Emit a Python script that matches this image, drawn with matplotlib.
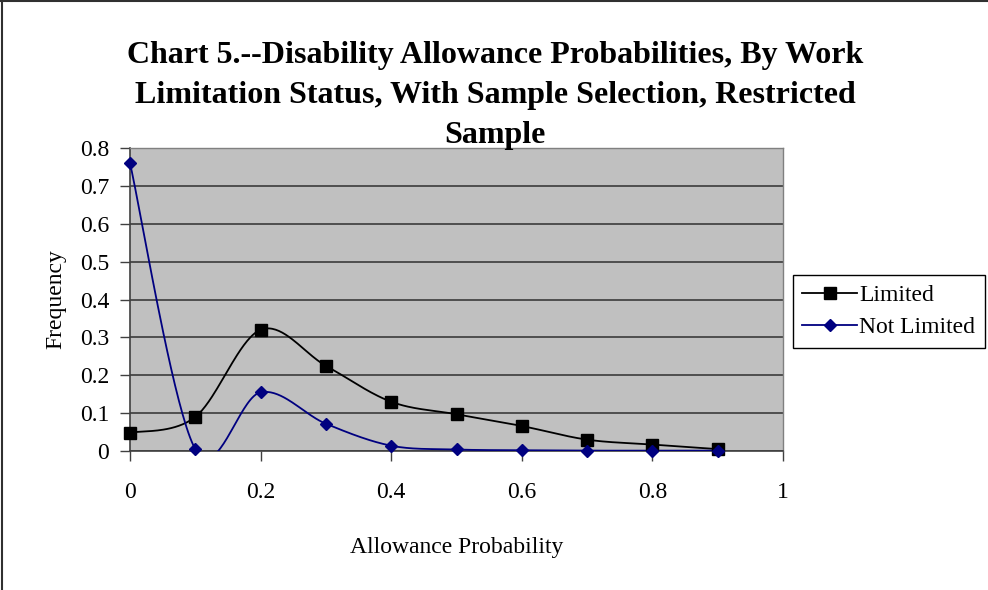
import numpy as np
import matplotlib
matplotlib.use("Agg")
import matplotlib.pyplot as plt
from matplotlib.lines import Line2D

plt.rcParams['font.family'] = ['Liberation Serif', 'DejaVu Serif']

x_vals = [0.0, 0.1, 0.2, 0.3, 0.4, 0.5, 0.6, 0.7, 0.8, 0.9]
limited = [0.048, 0.09, 0.32, 0.225, 0.13, 0.097, 0.066, 0.03, 0.017, 0.005]
not_limited = [0.76, 0.005, 0.155, 0.072, 0.014, 0.004, 0.002, 0.001, 0.001, 0.001]
series_names = ["Limited", "Not Limited"]
title_text = ("Chart 5.--Disability Allowance Probabilities, By Work\n"
              "Limitation Status, With Sample Selection, Restricted\n"
              "Sample")
x_label = "Allowance Probability"
y_label = "Frequency"


def smooth(xs, ys, n=40):
    """Excel-like Bezier smoothing (Catmull-Rom control points)."""
    xs = np.asarray(xs, float)
    ys = np.asarray(ys, float)
    P = np.column_stack([xs, ys])
    out = []
    m = len(P)
    for i in range(m - 1):
        p0 = P[i - 1] if i > 0 else P[i]
        p1 = P[i]
        p2 = P[i + 1]
        p3 = P[i + 2] if i + 2 < m else P[i + 1]
        c1 = p1 + (p2 - p0) / 6.0
        c2 = p2 - (p3 - p1) / 6.0
        t = np.linspace(0, 1, n)[:, None]
        seg = ((1 - t) ** 3) * p1 + 3 * ((1 - t) ** 2) * t * c1 + 3 * (1 - t) * t ** 2 * c2 + t ** 3 * p2
        out.append(seg if i == 0 else seg[1:])
    arr = np.vstack(out)
    return arr[:, 0], arr[:, 1]


fig = plt.figure(figsize=(9.88, 5.90), dpi=100)
ax = fig.add_axes([130 / 988, 1 - 451 / 590, (783 - 130) / 988, (451 - 148) / 590])
ax.set_facecolor('#C0C0C0')

ax.set_xlim(0, 1)
ax.set_ylim(0, 0.8)
ax.set_xticks(np.arange(0, 1.01, 0.2))
ax.set_xticklabels(['0', '0.2', '0.4', '0.6', '0.8', '1'])
ax.set_yticks(np.arange(0, 0.81, 0.1))
ax.set_yticklabels(['0', '0.1', '0.2', '0.3', '0.4', '0.5', '0.6', '0.7', '0.8'])
ax.grid(axis='y', color='#303030', linewidth=1.1)
ax.set_axisbelow(True)

for s in ['top', 'right']:
    ax.spines[s].set_color('#808080')
    ax.spines[s].set_linewidth(1.0)
for s in ['left', 'bottom']:
    ax.spines[s].set_color('#404040')
    ax.spines[s].set_linewidth(1.2)

ax.tick_params(axis='both', direction='out', length=7, width=1.0, color='#404040',
               labelsize=17)
ax.tick_params(axis='x', pad=15)
ax.tick_params(axis='y', pad=8)

colors = ['black', '#000080']
markers = ['s', 'D']
msizes = [8, 6.5]
for ys, c, mk, ms, name in zip([limited, not_limited], colors, markers, msizes, series_names):
    sx, sy = smooth(x_vals, ys)
    ax.plot(sx, sy, color=c, linewidth=1.3, zorder=3)
    ax.plot(x_vals, ys, linestyle='none', marker=mk, markersize=ms, color=c, zorder=4,
            clip_on=False)

ax.set_xlabel(x_label, fontsize=17, labelpad=25)
ax.set_ylabel(y_label, fontsize=17, labelpad=10)

fig.text(495 / 988, 1 - 96 / 590, title_text, ha='center', va='center', fontsize=23,
         fontweight='bold', linespacing=1.5)

handles = [Line2D([0], [0], color=c, marker=mk, markersize=ms, linewidth=1.3)
           for c, mk, ms in zip(colors, markers, msizes)]
leg = fig.legend(handles, series_names, loc='upper left',
                 bbox_to_anchor=(793 / 988, 1 - 275 / 590), fontsize=17,
                 frameon=True, fancybox=False, edgecolor='black', framealpha=1,
                 handlelength=2.3, handletextpad=0.1, borderpad=0.4, labelspacing=0.45,
                 borderaxespad=0)
leg.get_frame().set_linewidth(1.0)

# border on top and left edges (as in the reference)
fig.add_artist(Line2D([0.002, 0.002], [0, 1], transform=fig.transFigure,
                      color='#303030', linewidth=1.5))
fig.add_artist(Line2D([0, 1], [0.998, 0.998], transform=fig.transFigure,
                      color='#303030', linewidth=1.5))

fig.savefig('out.png', dpi=100)
